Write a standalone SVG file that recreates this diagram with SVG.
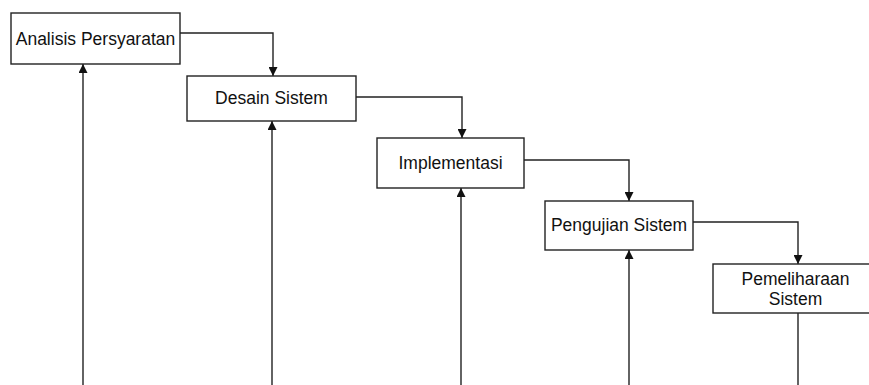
<svg xmlns="http://www.w3.org/2000/svg" width="869" height="385" viewBox="0 0 869 385">
<defs>
<marker id="arr" viewBox="0 0 10 10" refX="10" refY="5" markerWidth="9" markerHeight="9" markerUnits="userSpaceOnUse" orient="auto">
<path d="M0,0 L10,5 L0,10 Z" fill="#111"/>
</marker>
<style>
.box{fill:#fff;stroke:#222;stroke-width:1.4}
.lbl{font-family:"Liberation Sans",Arial,sans-serif;font-size:17.5px;fill:#111;text-anchor:middle}
.con{fill:none;stroke:#222;stroke-width:1.4}
</style>
</defs>
<rect width="869" height="385" fill="#fff"/>
<g id="connectors">
<path class="con" d="M180,33 H273 V76" marker-end="url(#arr)"/>
<path class="con" d="M356,97 H462 V138" marker-end="url(#arr)"/>
<path class="con" d="M524,160 H629 V201" marker-end="url(#arr)"/>
<path class="con" d="M693,222 H798 V264" marker-end="url(#arr)"/>
<path class="con" d="M83,385 V64" marker-end="url(#arr)"/>
<path class="con" d="M272,385 V121" marker-end="url(#arr)"/>
<path class="con" d="M461,385 V188" marker-end="url(#arr)"/>
<path class="con" d="M629,385 V250" marker-end="url(#arr)"/>
<path class="con" d="M798,313 V385"/>
</g>
<g id="analisis">
<rect class="box" x="11" y="13" width="169" height="51"/>
<text class="lbl" x="95.5" y="45">Analisis Persyaratan</text>
</g>
<g id="desain">
<rect class="box" x="187" y="76" width="169" height="45"/>
<text class="lbl" x="271.5" y="104">Desain Sistem</text>
</g>
<g id="implementasi">
<rect class="box" x="377" y="138" width="147" height="50"/>
<text class="lbl" x="450.5" y="169">Implementasi</text>
</g>
<g id="pengujian">
<rect class="box" x="545" y="201" width="148" height="49"/>
<text class="lbl" x="619" y="231">Pengujian Sistem</text>
</g>
<g id="pemeliharaan">
<rect class="box" x="713" y="264" width="165" height="49"/>
<text class="lbl" x="795.5" y="285">Pemeliharaan</text>
<text class="lbl" x="795.5" y="305">Sistem</text>
</g>
</svg>
